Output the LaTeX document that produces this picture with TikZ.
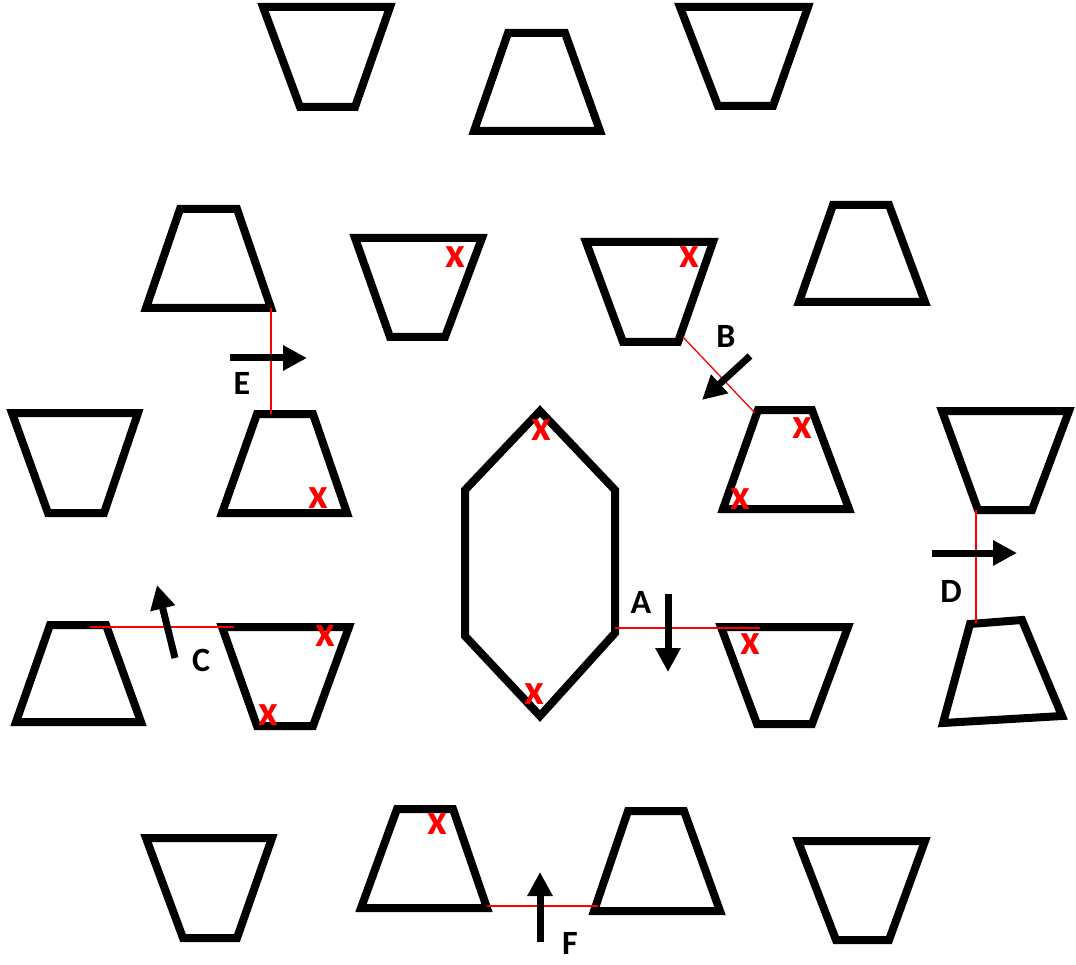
\documentclass[tikz,border=0pt]{standalone}
\usepackage{fontspec}
\setmainfont{Carlito}
\usetikzlibrary{arrows.meta}
\begin{document}
\begin{tikzpicture}[x=1pt,y=-1pt,
  trap/.style={draw=black,line width=8pt,line join=miter},
  redline/.style={draw=red,line width=1.3pt},
  bigarrow/.style={draw=black,line width=7pt,-{Triangle[length=24pt,width=24pt]}},
  lbl/.style={font=\fontsize{34}{34}\selectfont\bfseries,inner sep=0pt},
  xmark/.style={font=\fontsize{43}{43}\selectfont\bfseries,text=red,inner sep=0pt}]
\useasboundingbox (0,0) rectangle (1076,965);
% row 1
\draw[trap] (263,7)--(390,7)--(355,107)--(300,107)--cycle;
\draw[trap] (508,33)--(565,33)--(600,131)--(474,131)--cycle;
\draw[trap] (680,7)--(808,7)--(773,106)--(718,106)--cycle;
% row 2
\draw[trap] (180,209)--(237,209)--(271,308)--(146,308)--cycle;
\draw[trap] (355,238)--(482,238)--(445,337)--(390,337)--cycle;
\draw[trap] (586,242)--(713,242)--(678,342)--(623,342)--cycle;
\draw[trap] (833,205)--(889,205)--(925,302)--(799,302)--cycle;
% row 3
\draw[trap] (12,413)--(138,413)--(104,513)--(48,513)--cycle;
\draw[trap] (257,414)--(313,414)--(347,513)--(222,513)--cycle;
\draw[trap] (540,411)--(615,490)--(615,633)--(540,716)--(465,636)--(465,490)--cycle;
\draw[trap] (758,410)--(812,410)--(849,509)--(723,509)--cycle;
\draw[trap] (942,411)--(1069,411)--(1032,510)--(978,510)--cycle;
% row 4
\draw[trap] (50,625)--(106,625)--(141,722)--(16,722)--cycle;
\draw[trap] (222,627)--(349,627)--(313,726)--(257,726)--cycle;
\draw[trap] (721,627)--(848,627)--(812,724)--(757,724)--cycle;
\draw[trap] (970,624)--(1022,620)--(1062,716)--(943,723)--cycle;
% row 5
\draw[trap] (146,838)--(272,838)--(237,938)--(183,938)--cycle;
\draw[trap] (397,809)--(453,809)--(487,908)--(361,908)--cycle;
\draw[trap] (628,811)--(684,811)--(720,911)--(594,911)--cycle;
\draw[trap] (798,841)--(925,841)--(889,940)--(836,940)--cycle;
% connector end points
\coordinate (e1) at (271,308); \coordinate (e2) at (271,414);
\coordinate (b1) at (683,337); \coordinate (b2) at (755,413);
\coordinate (a1) at (615,628); \coordinate (a2) at (760,628);
\coordinate (d1) at (976,510); \coordinate (d2) at (976,623);
\coordinate (c1) at (90,627);  \coordinate (c2) at (234,627);
\coordinate (f1) at (487,906); \coordinate (f2) at (598,906);
\draw[redline] (e1)--(e2);
\draw[redline] (b1)--(b2);
\draw[redline] (a1)--(a2);
\draw[redline] (d1)--(d2);
\draw[redline] (c1)--(c2);
\draw[redline] (f1)--(f2);
% arrows
\coordinate (ea) at (230,358); \coordinate (eb) at (307,358);
\coordinate (ba) at (750,356); \coordinate (bb) at (702,400);
\coordinate (aa) at (668,594); \coordinate (ab) at (668,672);
\coordinate (da) at (932,553); \coordinate (db) at (1017,553);
\coordinate (ca) at (175,658); \coordinate (cb) at (157,585);
\coordinate (fa) at (540,942); \coordinate (fb) at (540,872);
\draw[bigarrow] (ea)--(eb);
\draw[bigarrow] (ba)--(bb);
\draw[bigarrow] (aa)--(ab);
\draw[bigarrow] (da)--(db);
\draw[bigarrow] (ca)--(cb);
\draw[bigarrow] (fa)--(fb);
% labels
\node[lbl] (lE) at (242,383) {E};
\node[lbl] (lB) at (726,336) {B};
\node[lbl] (lA) at (641,602) {A};
\node[lbl] (lD) at (951,591) {D};
\node[lbl] (lC) at (201,660) {C};
\node[lbl] (lF) at (570,943) {F};
% red marks
\node[xmark] (x1) at (455,257) {x};
\node[xmark] (x2) at (689,257) {x};
\node[xmark] (x3) at (318,498) {x};
\node[xmark] (x4) at (541,430) {x};
\node[xmark] (x5) at (534,694) {x};
\node[xmark] (x6) at (802,428) {x};
\node[xmark] (x7) at (740,499) {x};
\node[xmark] (x8) at (325,636) {x};
\node[xmark] (x9) at (268,715) {x};
\node[xmark] (x10) at (750,644) {x};
\node[xmark] (x11) at (437,824) {x};
\end{tikzpicture}
\end{document}
